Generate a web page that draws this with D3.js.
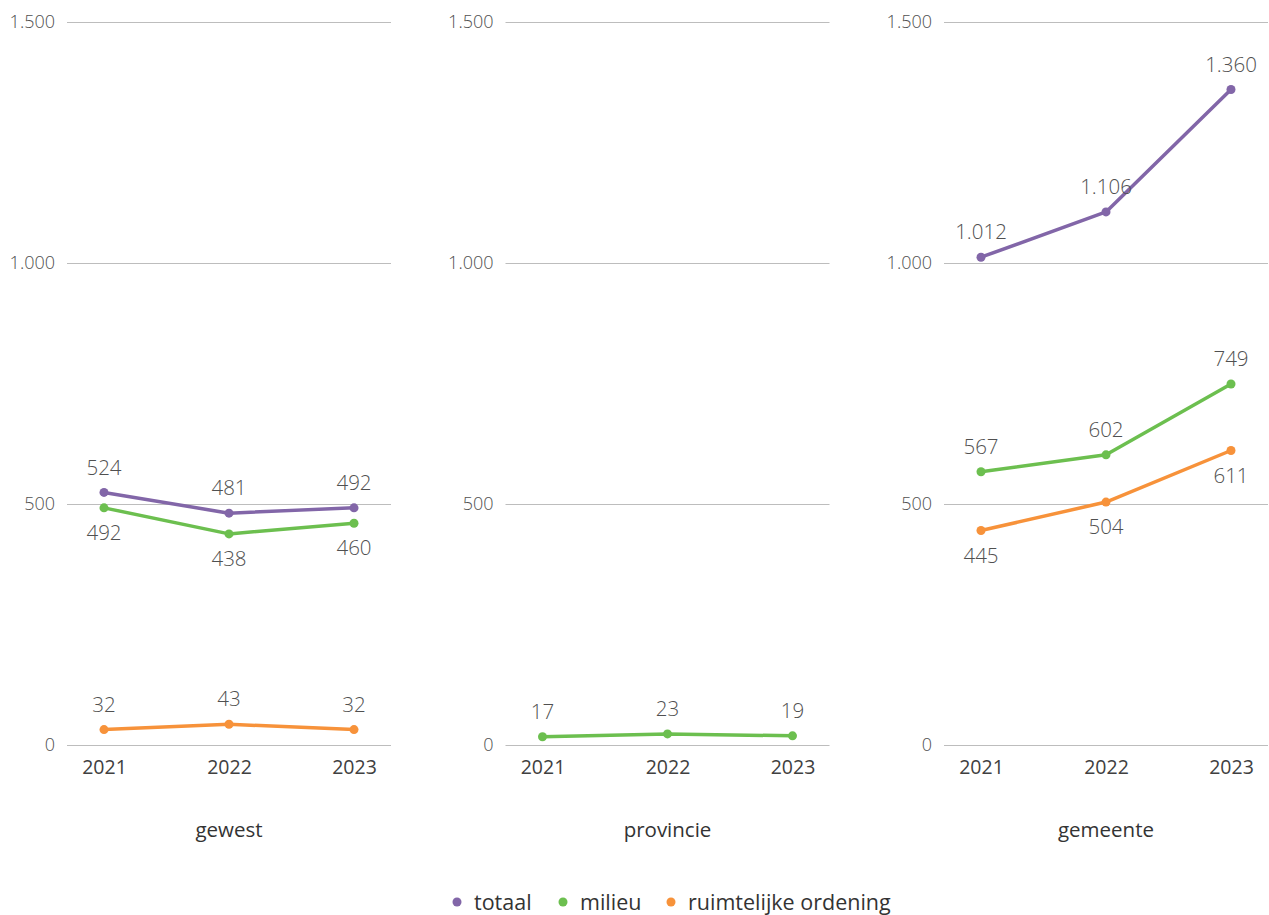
<!DOCTYPE html>
<html>
<head>
<meta charset="utf-8">
<script src="https://cdn.jsdelivr.net/npm/d3@7/dist/d3.min.js"></script>
<style>
  html, body { margin: 0; padding: 0; background: #fff; }
  svg text { font-family: "Open Sans", "Noto Sans", sans-serif; }
</style>
</head>
<body>
<svg id="chart" width="1269" height="915"></svg>
<script>
const years = ["2021", "2022", "2023"];
const panels = ["gewest", "provincie", "gemeente"];
const yTicks = [0, 500, 1000, 1500];
const seriesNames = ["totaal", "milieu", "ruimtelijke ordening"];
const seriesColors = ["#8266a8", "#6cbf4f", "#f7923a"];

// values per panel: [totaal, milieu, ruimtelijke ordening]; null = not shown
const gewestTotaal = [524, 481, 492];
const gewestMilieu = [492, 438, 460];
const gewestRO = [32, 43, 32];
const provincieTotaal = null;
const provincieMilieu = [17, 23, 19];
const provincieRO = null;
const gemeenteTotaal = [1012, 1106, 1360];
const gemeenteMilieu = [567, 602, 749];
const gemeenteRO = [445, 504, 611];

// label placement: -1 above, +1 below
const gewestLabelPos = [-1, 1, -1];
const provincieLabelPos = [-1, -1, -1];
const gemeenteLabelPos = [-1, -1, 1];

const panelData = [
  { name: panels[0], series: [gewestTotaal, gewestMilieu, gewestRO], pos: gewestLabelPos },
  { name: panels[1], series: [provincieTotaal, provincieMilieu, provincieRO], pos: provincieLabelPos },
  { name: panels[2], series: [gemeenteTotaal, gemeenteMilieu, gemeenteRO], pos: gemeenteLabelPos }
];

const fmt = d3.formatLocale({ decimal: ",", thousands: ".", grouping: [3], currency: ["€", ""] }).format(",d");

const svg = d3.select("#chart");
const textColor = "#505050";
const panelLeft = [67, 505.5, 944];
const panelWidth = 324;
const y = d3.scaleLinear().domain([0, 1500]).range([745, 22]);

panelData.forEach((p, i) => {
  const g = svg.append("g");
  const x = d3.scalePoint().domain(years).range([panelLeft[i], panelLeft[i] + panelWidth]).padding(0.296);

  // grid + y labels
  const yAxis = d3.axisLeft(y).tickValues(yTicks).tickFormat(fmt).tickSize(-panelWidth).tickPadding(12);
  const ya = g.append("g").attr("transform", `translate(${panelLeft[i]},0)`).call(yAxis);
  ya.select(".domain").remove();
  ya.selectAll(".tick line").attr("stroke", "#bdbdbd").attr("stroke-width", 1);
  ya.selectAll(".tick text").attr("fill", textColor).attr("font-size", 18).attr("font-weight", 300)
    .style("font-family", '"Open Sans", sans-serif');

  // x axis labels
  const xAxis = d3.axisBottom(x).tickSize(0).tickPadding(15);
  const xa = g.append("g").attr("transform", `translate(0,${y(0)})`).call(xAxis);
  xa.select(".domain").remove();
  xa.selectAll(".tick text").attr("fill", "#404040").attr("font-size", 19.5).attr("font-weight", 400)
    .style("font-family", '"Open Sans", sans-serif');

  // category title
  g.append("text").attr("x", panelLeft[i] + panelWidth / 2).attr("y", 837)
    .attr("text-anchor", "middle").attr("fill", "#333").attr("font-size", 20.5)
    .text(p.name);

  const line = d3.line().x((d, j) => x(years[j])).y(d => y(d));

  p.series.forEach((vals, s) => {
    if (!vals) return;
    g.append("path").datum(vals).attr("d", line).attr("fill", "none")
      .attr("stroke", seriesColors[s]).attr("stroke-width", 3.5).attr("stroke-linejoin", "round");
    g.selectAll(null).data(vals).enter().append("circle")
      .attr("cx", (d, j) => x(years[j])).attr("cy", d => y(d)).attr("r", 4.5)
      .attr("fill", seriesColors[s]);
    g.selectAll(null).data(vals).enter().append("text")
      .attr("x", (d, j) => x(years[j])).attr("y", d => y(d) + p.pos[s] * 25)
      .attr("dy", "0.35em").attr("text-anchor", "middle")
      .attr("fill", textColor).attr("font-size", 20.5).attr("font-weight", 300)
      .text(d => fmt(d));
  });
});

// legend
const legendItems = [
  { name: seriesNames[0], color: seriesColors[0], x: 457 },
  { name: seriesNames[1], color: seriesColors[1], x: 563 },
  { name: seriesNames[2], color: seriesColors[2], x: 671 }
];
const lg = svg.append("g");
legendItems.forEach(it => {
  lg.append("circle").attr("cx", it.x).attr("cy", 902).attr("r", 4.5).attr("fill", it.color);
  lg.append("text").attr("x", it.x + 17).attr("y", 902).attr("dy", "0.35em")
    .attr("fill", "#333").attr("font-size", 21.5).text(it.name);
});
</script>
</body>
</html>
